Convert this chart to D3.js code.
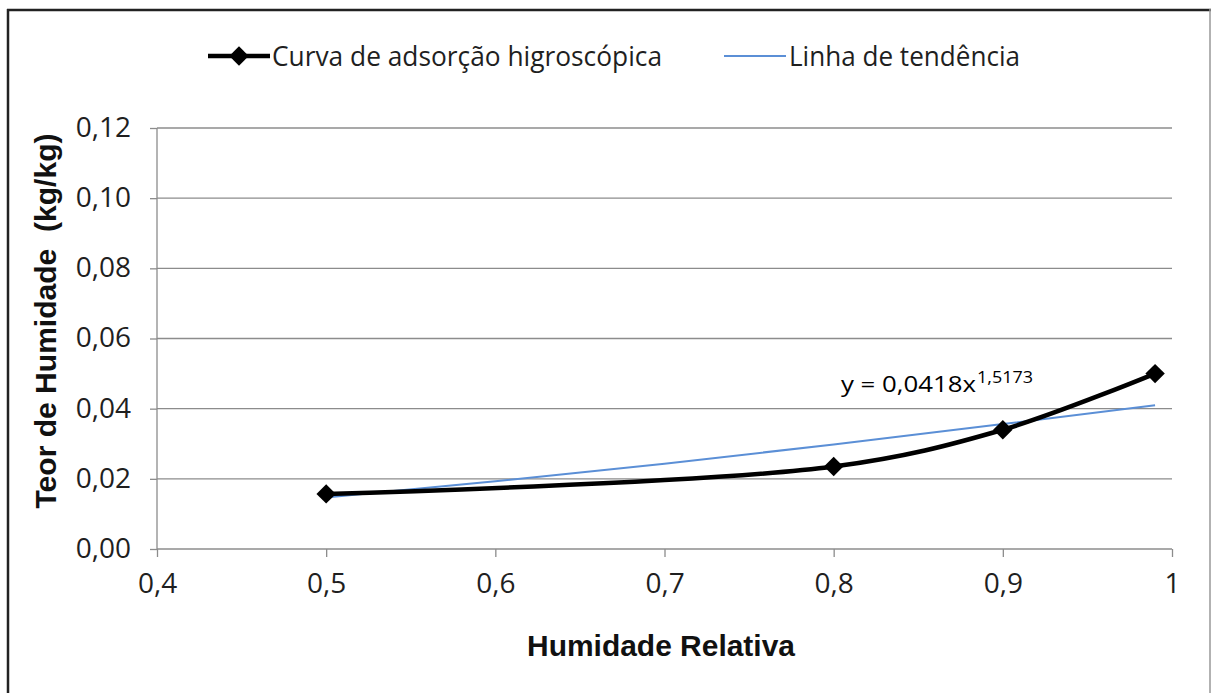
<!DOCTYPE html>
<html>
<head>
<meta charset="utf-8">
<script src="https://cdn.jsdelivr.net/npm/d3@7"></script>
<style>
  body { margin: 0; background: #fff; }
  svg text { fill: #000; }
  .tick text { font-family: "Open Sans", sans-serif; font-size: 28px; fill: #1f1f1f; }
  .axis-title { font-family: "Liberation Sans", Arial, sans-serif; font-weight: bold; font-size: 29px; fill: #111; }
  .legend text { font-family: "Open Sans", sans-serif; font-size: 27px; fill: #1f1f1f; }
</style>
</head>
<body>
<svg id="chart" width="1211" height="693"></svg>
<script>
// curva de adsorção
let hr = [0.5, 0.8, 0.9, 0.99];
let teor = [0.0157, 0.0235, 0.0340, 0.0500];

// linha de tendência
let trendX = [0.5, 0.6, 0.7, 0.8, 0.9, 0.99];
let trendY = [0.0147, 0.0193, 0.0243, 0.0298, 0.0356, 0.0410];

let xTicks = [0.4, 0.5, 0.6, 0.7, 0.8, 0.9, 1];
let yTicks = [0, 0.02, 0.04, 0.06, 0.08, 0.10, 0.12];
let equation = ['y = 0,0418x', '1,5173'];

let svg = d3.select('#chart');
let margin = {top: 128, right: 39, bottom: 144, left: 157};
let width = 1211 - margin.left - margin.right;
let height = 693 - margin.top - margin.bottom;

// moldura
svg.append('line').attr('x1', 8).attr('x2', 8).attr('y1', 9).attr('y2', 693)
  .attr('stroke', '#222').attr('stroke-width', 2.5);
svg.append('line').attr('x1', 7).attr('x2', 1211).attr('y1', 10).attr('y2', 10)
  .attr('stroke', '#222').attr('stroke-width', 2.5);
svg.append('line').attr('x1', 1210).attr('x2', 1210).attr('y1', 9).attr('y2', 693)
  .attr('stroke', '#999').attr('stroke-width', 1.5);

let x = d3.scaleLinear().domain([0.4, 1]).range([0, width]);
let y = d3.scaleLinear().domain([0, 0.12]).range([height, 0]);

let g = svg.append('g')
  .attr('transform', 'translate(' + margin.left + ',' + margin.top + ')');

let fmt = function(d) { return d3.format('.2f')(d).replace('.', ','); };
let fmtX = function(d) { return String(d).replace('.', ','); };

// grelha horizontal
g.append('g')
  .selectAll('line')
  .data(yTicks.slice(1))
  .enter().append('line')
  .attr('x1', 0).attr('x2', width)
  .attr('y1', function(d) { return y(d); })
  .attr('y2', function(d) { return y(d); })
  .attr('stroke', '#8c8c8c').attr('stroke-width', 1.3);

let yAxis = g.append('g')
  .call(d3.axisLeft(y).tickValues(yTicks).tickFormat(fmt).tickSize(7).tickPadding(19));
yAxis.selectAll('line, path').attr('stroke', '#8c8c8c').attr('stroke-width', 1.3);
yAxis.select('.domain').attr('d', 'M0,0V' + height);
yAxis.selectAll('.tick text').attr('dy', '0.3em');

let xAxis = g.append('g')
  .attr('transform', 'translate(0,' + height + ')')
  .call(d3.axisBottom(x).tickValues(xTicks).tickFormat(fmtX).tickSize(8).tickPadding(16));
xAxis.selectAll('line, path').attr('stroke', '#8c8c8c').attr('stroke-width', 1.3);
xAxis.select('.domain').attr('d', 'M0,0H' + width);

// linha de tendência
let trendLine = d3.line()
  .x(function(d, i) { return x(trendX[i]); })
  .y(function(d) { return y(d); })
  .curve(d3.curveMonotoneX);
g.append('path')
  .datum(trendY)
  .attr('fill', 'none')
  .attr('stroke', '#5b8fd6')
  .attr('stroke-width', 2)
  .attr('d', trendLine);

// curva
let curve = d3.line()
  .x(function(d, i) { return x(hr[i]); })
  .y(function(d) { return y(d); })
  .curve(d3.curveCatmullRom.alpha(0.5));
g.append('path')
  .datum(teor)
  .attr('fill', 'none')
  .attr('stroke', '#000')
  .attr('stroke-width', 4.5)
  .attr('d', curve);

let diamond = d3.symbol().type(d3.symbolDiamond2).size(240);
g.append('g')
  .selectAll('path')
  .data(teor)
  .enter().append('path')
  .attr('d', diamond)
  .attr('fill', '#000')
  .attr('transform', function(d, i) { return 'translate(' + x(hr[i]) + ',' + y(d) + ')'; });

// equação
svg.append('text')
  .attr('x', 841).attr('y', 392)
  .attr('font-family', '"Open Sans", sans-serif')
  .attr('font-size', 21)
  .attr('fill', '#1f1f1f')
  .attr('textLength', 135).attr('lengthAdjust', 'spacingAndGlyphs')
  .text(equation[0]);
svg.append('text')
  .attr('x', 977).attr('y', 383)
  .attr('font-family', '"Open Sans", sans-serif')
  .attr('font-size', 17)
  .attr('fill', '#1f1f1f')
  .attr('textLength', 56).attr('lengthAdjust', 'spacingAndGlyphs')
  .text(equation[1]);

// títulos dos eixos
svg.append('text')
  .attr('class', 'axis-title')
  .attr('text-anchor', 'middle')
  .attr('x', 661)
  .attr('y', 656)
  .attr('textLength', 268).attr('lengthAdjust', 'spacingAndGlyphs')
  .text('Humidade Relativa');

svg.append('text')
  .attr('class', 'axis-title')
  .attr('text-anchor', 'middle')
  .attr('transform', 'translate(56,321) rotate(-90)')
  .attr('textLength', 375).attr('lengthAdjust', 'spacingAndGlyphs')
  .text('Teor de Humidade\u00a0\u00a0(kg/kg)');

// legenda
let legend = svg.append('g').attr('class', 'legend');
legend.append('line')
  .attr('x1', 208).attr('x2', 270).attr('y1', 56).attr('y2', 56)
  .attr('stroke', '#000').attr('stroke-width', 4.5);
legend.append('path')
  .attr('d', diamond)
  .attr('transform', 'translate(239,56)')
  .attr('fill', '#000');
legend.append('text').attr('x', 272).attr('y', 66)
  .attr('textLength', 390).attr('lengthAdjust', 'spacingAndGlyphs')
  .text('Curva de adsorção higroscópica');
legend.append('line')
  .attr('x1', 724).attr('x2', 786).attr('y1', 56).attr('y2', 56)
  .attr('stroke', '#5b8fd6').attr('stroke-width', 2);
legend.append('text').attr('x', 789).attr('y', 66)
  .attr('textLength', 231).attr('lengthAdjust', 'spacingAndGlyphs')
  .text('Linha de tendência');
</script>
</body>
</html>
